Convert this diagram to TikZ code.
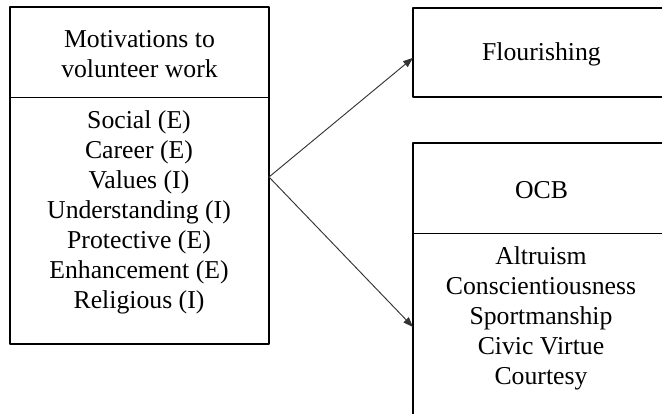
\documentclass[tikz,border=0pt]{standalone}
\usepackage{fontspec}
\setmainfont{Liberation Serif}
\usetikzlibrary{arrows.meta}

\begin{document}
\begin{tikzpicture}[line cap=round,line join=round,x=0.75pt,y=-0.75pt,
		part/.style={draw,line width=0.75pt,anchor=north west,inner sep=0pt},
		frame/.style={line width=1.5pt},
		txt/.style={align=center,inner sep=0pt,font=\fontsize{19.3pt}{22.5pt}\selectfont},
		link/.style={line width=0.7pt,color=black!80,-{Triangle[length=7.5pt,width=5.5pt]}}]
	\useasboundingbox (0,0) rectangle (662,414);
	\clip (0,0) rectangle (662,414);
	% left box
	\node[part,minimum width=193.5pt,minimum height=67.5pt] (motivhead) at (10,7) {};
	\node[part,minimum width=193.5pt,minimum height=184.5pt] (motivbody) at (10,97) {};
	\draw[frame] (motivhead.north west) rectangle (motivbody.south east);
	\node[txt] (motivtitle) at ([yshift=-1pt]motivhead.center) {Motivations to\\volunteer work};
	\node[txt] (motivlist) at (139,212) {Social (E)\\Career (E)\\Values (I)\\Understanding (I)\\Protective (E)\\Enhancement (E)\\Religious (I)};
	% right boxes
	\node[part,minimum width=192pt,minimum height=66pt] (flour) at (413,8) {};
	\draw[frame] (flour.north west) rectangle (flour.south east);
	\node[txt] (flourtitle) at ([yshift=-1.5pt]flour.center) {Flourishing};
	\node[part,minimum width=192pt,minimum height=67.5pt] (ocbhead) at (413,143) {};
	\node[part,minimum width=192pt,minimum height=150pt] (ocbbody) at (413,233) {};
	\draw[frame] (ocbhead.north west) rectangle (ocbbody.south east);
	\node[txt] (ocbtitle) at ([yshift=-1.5pt]ocbhead.center) {OCB};
	\node[txt] (ocblist) at (541,318) {Altruism\\Conscientiousness\\Sportmanship\\Civic Virtue\\Courtesy};
	% arrows
	\coordinate (fork) at ([yshift=-60pt]motivbody.north east);
	\coordinate (flourin) at ([yshift=-4pt]flour.west);
	\coordinate (ocbin) at ([yshift=-70.5pt]ocbbody.north west);
	\draw[link] (fork) -- (flourin);
	\draw[link] (fork) -- (ocbin);
\end{tikzpicture}
\end{document}
